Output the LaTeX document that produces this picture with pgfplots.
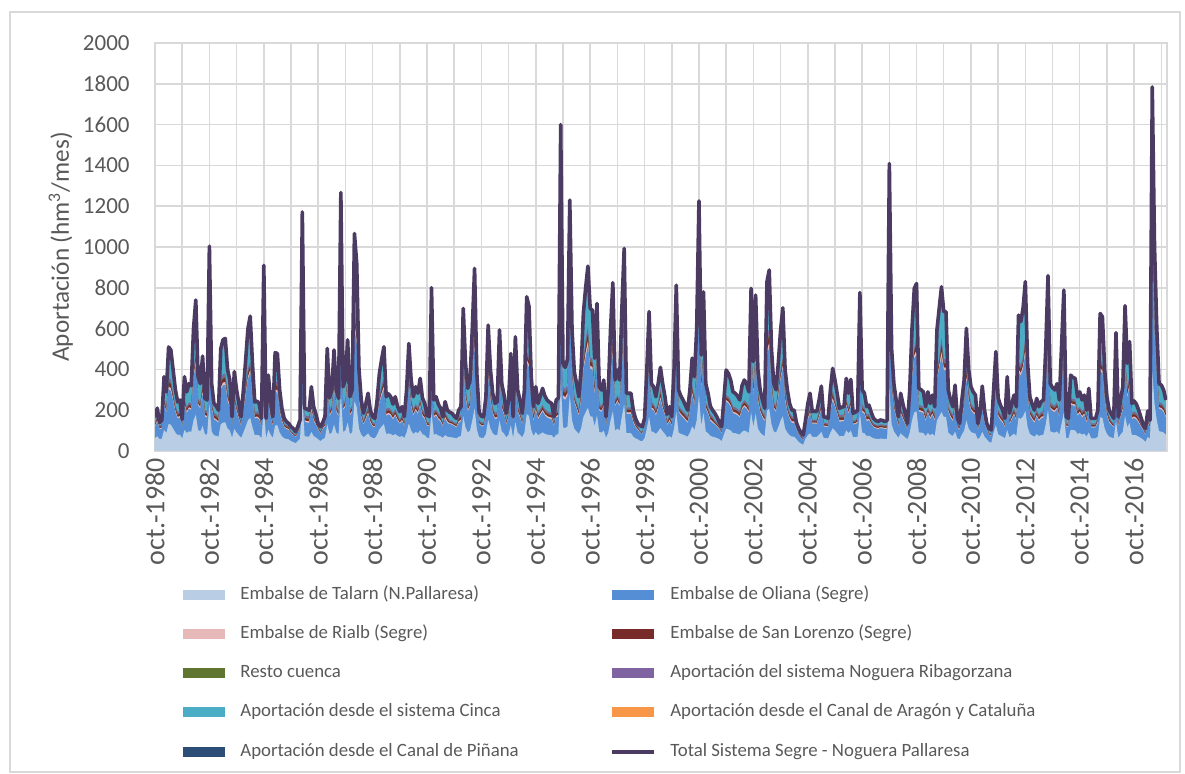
\documentclass[border=0pt]{standalone}
\usepackage{fontspec}
\setmainfont{Carlito}
\usepackage{pgfplots}
\usepackage{pgfplotstable}
\pgfplotsset{compat=1.18}

\definecolor{talc}{HTML}{B9CDE5}
\definecolor{olic}{HTML}{558ED5}
\definecolor{riac}{HTML}{E6B9B8}
\definecolor{sloc}{HTML}{772C2A}
\definecolor{resc}{HTML}{5F7530}
\definecolor{nogc}{HTML}{8064A2}
\definecolor{cinc}{HTML}{4BACC6}
\definecolor{cagc}{HTML}{F79646}
\definecolor{pinc}{HTML}{2C4D75}
\definecolor{totc}{HTML}{4B3B62}
\definecolor{gridc}{HTML}{D9D9D9}
\definecolor{txtc}{HTML}{595959}

% m = meses desde oct. 1980; T = total; resto = capas apiladas
\pgfplotstableread{
m T tal oli ria slo res nog
0 165 63 55 5 7 2 6
1 210 72 70 8 12 3 10
2 140 58 47 5 7 2 6
3 150 60 50 5 7 2 6
4 364 103 121 8 12 3 10
5 290 88 97 8 12 3 10
6 510 132 170 14 20 5 16
7 495 129 165 14 20 5 16
9 300 90 100 8 12 3 10
10 240 78 80 8 12 3 10
11 250 80 83 8 12 3 10
12 155 61 52 5 7 2 6
13 364 103 121 8 12 3 10
14 290 88 97 8 12 3 10
15 330 96 110 8 12 3 10
16 320 94 107 8 12 3 10
17 600 150 200 14 20 5 16
18 740 178 247 14 20 5 16
19 364 103 121 8 12 3 10
20 330 96 110 8 12 3 10
21 465 123 155 14 20 5 16
22 258 82 86 8 12 3 10
23 250 80 83 8 12 3 10
24 1004 231 335 25 35 8 28
25 330 96 110 8 12 3 10
26 233 77 78 8 12 3 10
27 220 74 73 8 12 3 10
28 200 70 67 8 12 3 10
29 500 130 167 14 20 5 16
30 545 139 182 14 20 5 16
31 552 140 184 14 20 5 16
32 400 110 133 14 20 5 16
33 348 100 116 8 12 3 10
34 168 64 56 5 7 2 6
35 389 108 130 8 12 3 10
36 300 90 100 8 12 3 10
37 233 77 78 8 12 3 10
38 168 64 56 5 7 2 6
39 300 90 100 8 12 3 10
40 446 119 149 14 20 5 16
41 600 150 200 14 20 5 16
42 661 162 220 14 20 5 16
43 430 116 143 14 20 5 16
44 240 78 80 8 12 3 10
45 245 79 82 8 12 3 10
46 230 76 77 8 12 3 10
47 160 62 53 5 7 2 6
48 910 212 303 25 35 8 28
49 160 62 53 5 7 2 6
50 372 104 124 8 12 3 10
51 250 80 83 8 12 3 10
52 168 64 56 5 7 2 6
53 482 126 161 14 20 5 16
54 478 126 159 14 20 5 16
55 300 90 100 8 12 3 10
56 209 72 70 8 12 3 10
57 160 62 53 5 7 2 6
58 144 59 48 5 7 2 6
59 135 57 45 5 7 2 6
60 119 48 36 3 4 1 4
61 110 44 33 3 4 1 4
62 95 38 29 3 4 1 4
63 120 48 36 3 4 1 4
64 152 60 51 5 7 2 6
65 1172 264 391 25 35 8 28
66 209 72 70 8 12 3 10
67 205 71 68 8 12 3 10
68 200 70 67 8 12 3 10
69 315 93 105 8 12 3 10
70 217 73 72 8 12 3 10
71 180 66 60 5 7 2 6
72 135 57 45 5 7 2 6
73 119 48 36 3 4 1 4
74 140 58 47 5 7 2 6
75 168 64 56 5 7 2 6
76 503 131 168 14 20 5 16
77 260 82 87 8 12 3 10
78 300 90 100 8 12 3 10
79 495 129 165 14 20 5 16
80 300 90 100 8 12 3 10
81 258 82 86 8 12 3 10
82 1267 283 422 25 35 8 28
83 315 93 105 8 12 3 10
84 350 100 117 8 12 3 10
85 545 139 182 14 20 5 16
86 266 83 89 8 12 3 10
87 300 90 100 8 12 3 10
88 1066 243 355 25 35 8 28
89 919 214 306 25 35 8 28
90 400 110 133 14 20 5 16
91 250 80 83 8 12 3 10
92 185 67 62 5 7 2 6
93 230 76 77 8 12 3 10
94 283 87 94 8 12 3 10
95 200 70 67 8 12 3 10
96 168 64 56 5 7 2 6
97 160 62 53 5 7 2 6
98 250 80 83 8 12 3 10
99 380 106 127 8 12 3 10
100 450 120 150 14 20 5 16
101 511 132 170 14 20 5 16
102 266 83 89 8 12 3 10
103 280 86 93 8 12 3 10
104 266 83 89 8 12 3 10
105 230 76 77 8 12 3 10
106 266 83 89 8 12 3 10
107 220 74 73 8 12 3 10
108 193 69 64 5 7 2 6
109 217 73 72 8 12 3 10
110 168 64 56 5 7 2 6
111 300 90 100 8 12 3 10
112 527 135 176 14 20 5 16
113 350 100 117 8 12 3 10
114 266 83 89 8 12 3 10
115 315 93 105 8 12 3 10
116 283 87 94 8 12 3 10
117 356 101 119 8 12 3 10
118 260 82 87 8 12 3 10
119 233 77 78 8 12 3 10
120 176 65 59 5 7 2 6
121 168 64 56 5 7 2 6
122 800 190 267 25 35 8 28
123 250 80 83 8 12 3 10
124 266 83 89 8 12 3 10
125 230 76 77 8 12 3 10
126 209 72 70 8 12 3 10
127 168 64 56 5 7 2 6
128 242 78 81 8 12 3 10
129 200 70 67 8 12 3 10
130 190 68 63 5 7 2 6
131 185 67 62 5 7 2 6
132 170 64 57 5 7 2 6
133 160 62 53 5 7 2 6
134 200 70 67 8 12 3 10
135 217 73 72 8 12 3 10
136 699 170 233 14 20 5 16
137 430 116 143 14 20 5 16
138 307 91 102 8 12 3 10
139 350 100 117 8 12 3 10
140 600 150 200 14 20 5 16
141 895 209 298 25 35 8 28
142 380 106 127 8 12 3 10
143 190 68 63 5 7 2 6
144 170 64 57 5 7 2 6
145 168 64 56 5 7 2 6
146 266 83 89 8 12 3 10
147 617 153 206 14 20 5 16
148 400 110 133 14 20 5 16
149 283 87 94 8 12 3 10
150 233 77 78 8 12 3 10
151 242 78 81 8 12 3 10
152 593 149 198 14 20 5 16
153 330 96 110 8 12 3 10
154 274 85 91 8 12 3 10
155 185 67 62 5 7 2 6
156 250 80 83 8 12 3 10
157 478 126 159 14 20 5 16
158 168 64 56 5 7 2 6
159 560 142 187 14 20 5 16
160 300 90 100 8 12 3 10
161 250 80 83 8 12 3 10
162 185 67 62 5 7 2 6
163 300 90 100 8 12 3 10
164 756 181 252 14 20 5 16
165 710 172 237 14 20 5 16
166 364 103 121 8 12 3 10
167 217 73 72 8 12 3 10
168 315 93 105 8 12 3 10
169 233 77 78 8 12 3 10
170 270 84 90 8 12 3 10
171 307 91 102 8 12 3 10
172 270 84 90 8 12 3 10
173 250 80 83 8 12 3 10
174 240 78 80 8 12 3 10
175 233 77 78 8 12 3 10
176 168 64 56 5 7 2 6
177 250 80 83 8 12 3 10
178 260 82 87 8 12 3 10
179 1600 350 533 25 35 8 28
180 430 116 143 14 20 5 16
181 410 112 137 14 20 5 16
182 450 120 150 14 20 5 16
183 1230 276 410 25 35 8 28
184 593 149 198 14 20 5 16
185 389 108 130 8 12 3 10
186 330 96 110 8 12 3 10
187 266 83 89 8 12 3 10
188 400 110 133 14 20 5 16
189 674 165 225 14 20 5 16
190 800 190 267 25 35 8 28
191 906 211 302 25 35 8 28
192 699 170 233 14 20 5 16
193 690 168 230 14 20 5 16
194 454 121 151 14 20 5 16
195 723 175 241 14 20 5 16
196 315 93 105 8 12 3 10
197 299 90 100 8 12 3 10
198 348 100 116 8 12 3 10
199 168 64 56 5 7 2 6
200 300 90 100 8 12 3 10
201 600 150 200 14 20 5 16
202 825 195 275 25 35 8 28
203 348 100 116 8 12 3 10
204 397 109 132 8 12 3 10
205 348 100 116 8 12 3 10
206 700 170 233 14 20 5 16
207 993 229 331 25 35 8 28
208 283 87 94 8 12 3 10
209 283 87 94 8 12 3 10
210 283 87 94 8 12 3 10
211 200 70 67 8 12 3 10
212 160 62 53 5 7 2 6
213 135 57 45 5 7 2 6
214 125 50 38 3 4 1 4
215 119 48 36 3 4 1 4
216 160 62 53 5 7 2 6
217 400 110 133 14 20 5 16
218 683 167 228 14 20 5 16
219 330 96 110 8 12 3 10
220 315 93 105 8 12 3 10
221 266 83 89 8 12 3 10
222 330 96 110 8 12 3 10
223 410 112 137 14 20 5 16
224 330 96 110 8 12 3 10
225 266 83 89 8 12 3 10
226 180 66 60 5 7 2 6
227 217 73 72 8 12 3 10
228 168 64 56 5 7 2 6
229 400 110 133 14 20 5 16
230 813 193 271 25 35 8 28
231 299 90 100 8 12 3 10
232 270 84 90 8 12 3 10
233 250 80 83 8 12 3 10
234 225 75 75 8 12 3 10
235 200 70 67 8 12 3 10
236 300 90 100 8 12 3 10
237 455 121 152 14 20 5 16
238 364 103 121 8 12 3 10
239 600 150 200 14 20 5 16
240 1226 275 409 25 35 8 28
241 470 124 157 14 20 5 16
242 780 186 260 14 20 5 16
243 330 96 110 8 12 3 10
244 283 87 94 8 12 3 10
245 220 74 73 8 12 3 10
246 200 70 67 8 12 3 10
247 185 67 62 5 7 2 6
248 165 63 55 5 7 2 6
249 140 58 47 5 7 2 6
250 119 48 36 3 4 1 4
251 250 80 83 8 12 3 10
252 397 109 132 8 12 3 10
253 380 106 127 8 12 3 10
254 348 100 116 8 12 3 10
255 290 88 97 8 12 3 10
256 283 87 94 8 12 3 10
257 270 84 90 8 12 3 10
258 250 80 83 8 12 3 10
259 320 94 107 8 12 3 10
260 348 100 116 8 12 3 10
261 330 96 110 8 12 3 10
262 290 88 97 8 12 3 10
263 797 189 266 14 20 5 16
264 438 118 146 14 20 5 16
265 764 183 255 14 20 5 16
266 400 110 133 14 20 5 16
267 299 90 100 8 12 3 10
268 250 80 83 8 12 3 10
269 209 72 70 8 12 3 10
270 830 196 277 25 35 8 28
271 887 207 296 25 35 8 28
272 500 130 167 14 20 5 16
273 330 96 110 8 12 3 10
274 300 90 100 8 12 3 10
275 430 116 143 14 20 5 16
276 590 148 197 14 20 5 16
277 702 170 234 14 20 5 16
278 400 110 133 14 20 5 16
279 299 90 100 8 12 3 10
280 233 77 78 8 12 3 10
281 200 70 67 8 12 3 10
282 200 70 67 8 12 3 10
283 140 58 47 5 7 2 6
284 110 44 33 3 4 1 4
285 90 36 27 3 4 1 4
286 78 31 23 3 4 1 4
287 150 60 50 5 7 2 6
288 230 76 77 8 12 3 10
289 283 87 94 8 12 3 10
290 193 69 64 5 7 2 6
291 195 69 65 5 7 2 6
292 193 69 64 5 7 2 6
293 250 80 83 8 12 3 10
294 318 94 106 8 12 3 10
295 168 64 56 5 7 2 6
296 165 63 55 5 7 2 6
297 160 62 53 5 7 2 6
298 300 90 100 8 12 3 10
299 405 111 135 14 20 5 16
300 348 100 116 8 12 3 10
301 280 86 93 8 12 3 10
302 209 72 70 8 12 3 10
303 215 73 72 8 12 3 10
304 217 73 72 8 12 3 10
305 356 101 119 8 12 3 10
306 283 87 94 8 12 3 10
307 351 100 117 8 12 3 10
308 185 67 62 5 7 2 6
309 190 68 63 5 7 2 6
310 200 70 67 8 12 3 10
311 777 185 259 14 20 5 16
312 300 90 100 8 12 3 10
313 283 87 94 8 12 3 10
314 217 73 72 8 12 3 10
315 225 75 75 8 12 3 10
316 190 68 63 5 7 2 6
317 160 62 53 5 7 2 6
318 150 60 50 5 7 2 6
319 144 59 48 5 7 2 6
320 152 60 51 5 7 2 6
321 150 60 50 5 7 2 6
322 144 59 48 5 7 2 6
323 150 60 50 5 7 2 6
324 1409 312 470 25 35 8 28
325 500 130 167 14 20 5 16
326 330 96 110 8 12 3 10
327 250 80 83 8 12 3 10
328 168 64 56 5 7 2 6
329 283 87 94 8 12 3 10
330 230 76 77 8 12 3 10
331 185 67 62 5 7 2 6
332 135 57 45 5 7 2 6
333 300 90 100 8 12 3 10
334 600 150 200 14 20 5 16
335 797 189 266 14 20 5 16
336 821 194 274 25 35 8 28
337 307 91 102 8 12 3 10
338 300 90 100 8 12 3 10
339 290 88 97 8 12 3 10
340 217 73 72 8 12 3 10
341 290 88 97 8 12 3 10
342 233 77 78 8 12 3 10
343 274 85 91 8 12 3 10
344 217 73 72 8 12 3 10
345 593 149 198 14 20 5 16
346 700 170 233 14 20 5 16
347 805 191 268 25 35 8 28
348 683 167 228 14 20 5 16
349 683 167 228 14 20 5 16
350 299 90 100 8 12 3 10
351 250 80 83 8 12 3 10
352 217 73 72 8 12 3 10
353 323 95 108 8 12 3 10
354 160 62 53 5 7 2 6
355 135 57 45 5 7 2 6
356 250 80 83 8 12 3 10
357 348 100 116 8 12 3 10
358 601 150 200 14 20 5 16
359 400 110 133 14 20 5 16
360 315 93 105 8 12 3 10
361 290 88 97 8 12 3 10
362 274 85 91 8 12 3 10
363 135 57 45 5 7 2 6
364 185 67 62 5 7 2 6
365 318 94 106 8 12 3 10
366 200 70 67 8 12 3 10
367 135 57 45 5 7 2 6
368 110 44 33 3 4 1 4
369 103 41 31 3 4 1 4
370 300 90 100 8 12 3 10
371 487 127 162 14 20 5 16
372 260 82 87 8 12 3 10
373 225 75 75 8 12 3 10
374 200 70 67 8 12 3 10
375 160 62 53 5 7 2 6
376 364 103 121 8 12 3 10
377 185 67 62 5 7 2 6
378 230 76 77 8 12 3 10
379 274 85 91 8 12 3 10
380 217 73 72 8 12 3 10
381 666 163 222 14 20 5 16
382 634 157 211 14 20 5 16
383 700 170 233 14 20 5 16
384 830 196 277 25 35 8 28
385 430 116 143 14 20 5 16
386 266 83 89 8 12 3 10
387 230 76 77 8 12 3 10
388 200 70 67 8 12 3 10
389 258 82 86 8 12 3 10
390 217 73 72 8 12 3 10
391 242 78 81 8 12 3 10
392 250 80 83 8 12 3 10
393 500 130 167 14 20 5 16
394 859 202 286 25 35 8 28
395 330 96 110 8 12 3 10
396 310 92 103 8 12 3 10
397 299 90 100 8 12 3 10
398 330 96 110 8 12 3 10
399 250 80 83 8 12 3 10
401 789 188 263 14 20 5 16
402 168 64 56 5 7 2 6
403 160 62 53 5 7 2 6
404 372 104 124 8 12 3 10
405 360 102 120 8 12 3 10
406 356 101 119 8 12 3 10
407 266 83 89 8 12 3 10
408 290 88 97 8 12 3 10
409 250 80 83 8 12 3 10
410 274 85 91 8 12 3 10
411 200 70 67 8 12 3 10
412 307 91 102 8 12 3 10
413 160 62 53 5 7 2 6
414 160 62 53 5 7 2 6
415 160 62 53 5 7 2 6
416 200 70 67 8 12 3 10
417 674 165 225 14 20 5 16
418 658 162 219 14 20 5 16
419 400 110 133 14 20 5 16
420 266 83 89 8 12 3 10
421 200 70 67 8 12 3 10
422 180 66 60 5 7 2 6
423 160 62 53 5 7 2 6
424 580 146 193 14 20 5 16
425 168 64 56 5 7 2 6
426 250 80 83 8 12 3 10
427 315 93 105 8 12 3 10
428 712 172 237 14 20 5 16
429 430 116 143 14 20 5 16
430 536 137 179 14 20 5 16
431 233 77 78 8 12 3 10
432 245 79 82 8 12 3 10
433 230 76 77 8 12 3 10
434 200 70 67 8 12 3 10
435 165 63 55 5 7 2 6
436 130 56 43 5 7 2 6
437 110 44 33 3 4 1 4
438 196 69 65 5 7 2 6
439 150 60 50 5 7 2 6
440 1785 387 595 25 35 8 28
441 1000 230 333 25 35 8 28
442 600 150 200 14 20 5 16
443 330 96 110 8 12 3 10
444 323 95 108 8 12 3 10
445 300 90 100 8 12 3 10
446 250 80 83 8 12 3 10
}\aport

\pgfplotsset{
  base/.style={
    at={(77.5pt,161.5pt)}, anchor=south west,
    scale only axis, width=506pt, height=204pt,
    xmin=0, xmax=446.5, ymin=0, ymax=2000,
  },
  swatch/.style={legend image code/.code={\fill[##1] (0pt,-2.5pt) rectangle (21pt,2.5pt);}},
  tline/.style={legend image code/.code={\draw[##1] (0pt,0pt) -- (21pt,0pt);}},
}

\begin{document}
\begin{tikzpicture}
\path[use as bounding box] (0,0) rectangle (592.5pt,387pt);
\draw[gridc, line width=0.6pt] (5pt,1pt) rectangle (590pt,381pt);

% fondo: rejilla, ejes y capa del sistema Cinca (hasta el total)
\begin{axis}[base,
  xtick={0,24,...,432},
  xticklabels={oct.-1980,oct.-1982,oct.-1984,oct.-1986,oct.-1988,oct.-1990,oct.-1992,oct.-1994,oct.-1996,oct.-1998,oct.-2000,oct.-2002,oct.-2004,oct.-2006,oct.-2008,oct.-2010,oct.-2012,oct.-2014,oct.-2016},
  minor xtick={12,36,...,444},
  ytick={0,200,...,2000},
  grid=both,
  major grid style={gridc, line width=0.75pt},
  minor grid style={gridc, line width=0.75pt},
  axis line style={gridc, line width=0.75pt},
  major tick length=0pt, minor tick length=0pt,
  tick label style={text=txtc},
  yticklabel style={font=\fontsize{11.5}{13}\selectfont},
  /pgf/number format/assume math mode=true,
  /pgf/number format/1000 sep={},
  xticklabel style={font=\fontsize{14}{16}\selectfont, yshift=-3.5pt, rotate=90, anchor=east, inner sep=0pt},
  yticklabel style={xshift=-12.5pt, anchor=east, inner sep=0pt},
  ylabel={Aportación (hm\textsuperscript{3}/mes)},
  every axis y label/.style={at={(axis description cs:-0.093,0.5)}, rotate=90, anchor=center, font=\fontsize{12.6}{14}\selectfont, text=txtc},
]
\addplot[fill=cinc, draw=none] table[x=m, y=T]{\aport} \closedcycle;
\end{axis}

% capas apiladas de los embalses
\begin{axis}[base, hide axis, stack plots=y]
\addplot[fill=talc, draw=none] table[x=m, y=tal]{\aport} \closedcycle;
\addplot[fill=olic, draw=none] table[x=m, y=oli]{\aport} \closedcycle;
\addplot[fill=riac, draw=none] table[x=m, y=ria]{\aport} \closedcycle;
\addplot[fill=sloc, draw=none] table[x=m, y=slo]{\aport} \closedcycle;
\addplot[fill=resc, draw=none] table[x=m, y=res]{\aport} \closedcycle;
\addplot[fill=nogc, draw=none] table[x=m, y=nog]{\aport} \closedcycle;
\end{axis}

% total y leyenda
\begin{axis}[base, hide axis,
  legend columns=2,
  legend cell align=left,
  legend style={at={(axis description cs:0.0277,-0.33)}, anchor=north west,
    draw=none, fill=none, inner sep=0pt,
    font=\fontsize{9.4}{11}\selectfont, text=txtc,
    nodes={inner sep=0pt, text height=6.5pt, text depth=2pt},
    row sep=11.15pt,
    /tikz/every odd column/.append style={column sep=7.5pt},
    /tikz/every even column/.append style={column sep=45.5pt}},
]
\addlegendimage{swatch, fill=talc, draw=none}
\addlegendentry{Embalse de Talarn (N.Pallaresa)}
\addlegendimage{swatch, fill=olic, draw=none}
\addlegendentry{Embalse de Oliana (Segre)}
\addlegendimage{swatch, fill=riac, draw=none}
\addlegendentry{Embalse de Rialb (Segre)}
\addlegendimage{swatch, fill=sloc, draw=none}
\addlegendentry{Embalse de San Lorenzo (Segre)}
\addlegendimage{swatch, fill=resc, draw=none}
\addlegendentry{Resto cuenca}
\addlegendimage{swatch, fill=nogc, draw=none}
\addlegendentry{Aportación del sistema Noguera Ribagorzana}
\addlegendimage{swatch, fill=cinc, draw=none}
\addlegendentry{Aportación desde el sistema Cinca}
\addlegendimage{swatch, fill=cagc, draw=none}
\addlegendentry{Aportación desde el Canal de Aragón y Cataluña}
\addlegendimage{swatch, fill=pinc, draw=none}
\addlegendentry{Aportación desde el Canal de Piñana}
\addplot[tline, totc, line width=1.8pt, line join=round] table[x=m, y=T]{\aport};
\addlegendentry{Total Sistema Segre - Noguera Pallaresa}
\end{axis}
\end{tikzpicture}
\end{document}
